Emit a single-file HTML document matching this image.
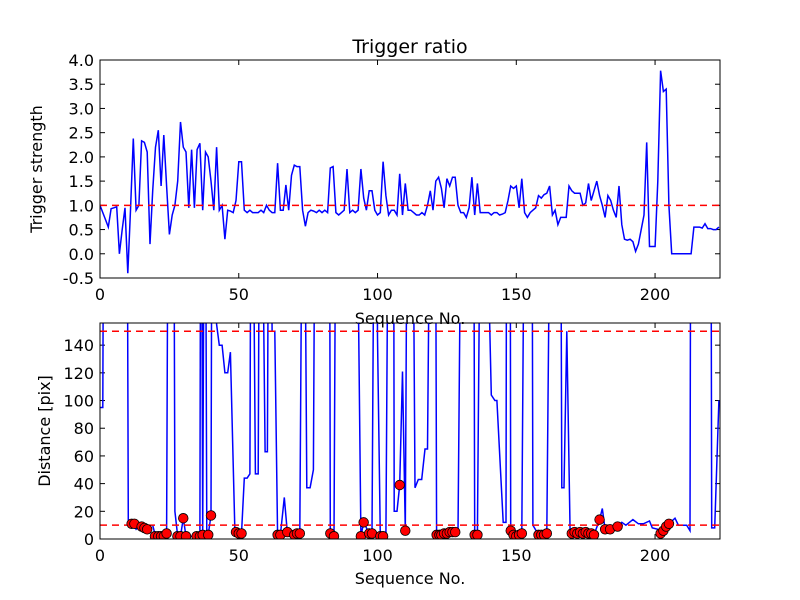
<!DOCTYPE html>
<html><head><meta charset="utf-8"><style>
body{margin:0;background:#fff}
svg{display:block;font-family:"DejaVu Sans","Liberation Sans",sans-serif}
</style></head><body>
<svg id="chart" width="800" height="600" viewBox="0 0 800 600">
<defs>
<clipPath id="c1"><rect x="100" y="60" width="620" height="218"/></clipPath>
<clipPath id="c2"><rect x="100" y="323" width="620" height="216"/></clipPath>
</defs>
<rect width="800" height="600" fill="#fff"/>
<g id="top"></g>
<g id="bot"></g>
</svg>
<script>
// ---- data ----
// trigger strength, one value per sequence number 0..223
const topVal = [
1.0,0.85,0.7,0.55,0.93,0.95,0.97,0.0,0.5,0.95,
-0.4,0.9,2.38,0.9,1.0,2.33,2.3,2.1,0.2,1.3,
2.2,2.55,1.4,2.45,1.4,0.4,0.8,1.0,1.5,2.72,
2.2,2.1,0.95,2.15,0.95,2.15,2.28,0.9,2.1,2.0,
1.5,0.9,2.2,0.9,1.0,0.3,0.9,0.88,0.85,1.1,
1.9,1.9,0.9,0.85,0.9,0.85,0.85,0.85,0.9,0.85,
1.0,0.9,0.85,0.85,1.87,0.9,0.9,1.42,0.9,1.62,
1.83,1.8,1.8,0.9,0.57,0.85,0.9,0.88,0.85,0.9,
0.85,0.9,0.85,1.77,1.8,0.85,0.8,0.85,0.9,1.75,
0.85,0.9,0.85,0.9,1.75,1.15,0.9,1.3,1.3,0.9,
0.8,0.85,1.9,1.2,0.8,0.9,0.9,0.8,1.65,0.8,
1.45,0.9,0.9,0.85,0.8,0.8,0.85,0.8,1.0,1.3,
0.9,1.5,1.58,1.35,0.95,1.55,1.4,1.58,1.58,1.0,
0.85,0.85,0.75,0.95,1.58,0.8,1.45,0.85,0.85,0.85,
0.85,0.8,0.85,0.85,0.8,0.82,0.85,1.1,1.4,1.35,
1.4,0.95,1.55,0.85,0.75,0.85,0.9,0.95,1.2,1.15,
1.22,1.25,1.4,0.8,0.9,0.6,0.75,0.75,0.75,1.4,
1.3,1.25,1.25,1.25,1.0,1.05,1.45,1.1,1.3,1.5,
1.2,1.0,0.75,1.2,1.1,0.9,0.75,1.4,0.6,0.3,
0.28,0.3,0.25,0.05,0.2,0.5,0.8,2.3,0.15,0.15,
0.15,1.5,3.78,3.35,3.4,1.0,0.0,0.0,0.0,0.0,
0.0,0.0,0.0,0.0,0.55,0.55,0.55,0.53,0.62,0.52,
0.52,0.5,0.5,0.55];
const topTicksY = [-0.5,0.0,0.5,1.0,1.5,2.0,2.5,3.0,3.5,4.0];
const xTicks = [0,50,100,150,200];
// distance line (400 = off the top of the axes)
const botSeq = [
0,1,1.5,9.6,10.2,11,12,13,14,15,
16,17,18,19,20,21,22,23,24,24.8,
26.4,27,28,29,30,31,32,33,34,35,
36,36.4,37,37.8,38.5,39,40,40.5,42,43,
44,45,46,47,48.6,49,50,51,52,53,
54,54.6,56,57,57.7,59.5,60.3,61,62,63,
64,65,66.4,67.5,68.2,69.7,71,72,73.3,74.5,
75.7,76.9,77.8,82.6,83,84.3,85.3,91.9,94,95,
97,98,99.2,100,101,102,103,104.3,105.7,106,
107,108,109,110,111,112.3,113.5,114.7,115.9,117.1,
118,119.5,120.7,121.3,123,124,125,126,127,128,
129,130.7,134.5,135,136,137.6,141,142.3,143,145.3,
146.3,146.6,147.7,148,149,150,151,152,153.4,155.5,
156,158,159,160,161,162.8,165.8,166.4,167.2,168.2,
169.4,170,171,172,173,174,175,176,177,178,
180,181,182,183.8,186.5,188,189.5,192,194,195.8,
198,199,201,202,203,204,205,207.2,208.4,211.4,
212.6,213,220,220.4,221.5,223];
const botVal = [
95,95,400,400,11,11,11,7,9,8,
7,6,10,10,2,2,2,2,4,400,
400,20,2,2,15,2,2,2,2,2,
3,400,2,400,2,3,17,400,155,140,
140,120,120,135,5,4,4,4,44,44,
47,400,47,47,400,63,63,400,150,150,
2,3,30,5,2,3,4,4,400,37,
37,50,400,400,4,2,400,400,2,12,
4,4,400,146,2,2,2,400,400,20,
20,39,121,6,400,400,37,43,43,65,
65,400,400,2,3,3,4,4,5,5,
5,400,400,3,3,400,104,100,100,12,
12,400,400,6,3,2,3,4,400,400,
10,3,3,3,4,400,400,37,37,150,
5,4,5,4,5,4,5,4,4,3,
14,22,7,7,9,12,10,14,11,11,
13,8,7,5,6,9,11,15,10,10,
6,400,400,8,8,100];
const dotSeq = [
11.4,12.4,15,16,17,19.8,21,22,23,24,
27.9,29,30,31,34.8,36,37,39,40,49,
50,51,64,65,67.5,70,71,72,83,84.3,
94,95,97,98,101,102,108,110,121.3,122.3,
123,124,125,126,127,128,135,136,148,149,
150,151,152,158,159,160,161,170,171,172,
173,174,175,176,177,178,180,182,183.8,186.5,
202,203,204,205];
const dotVal = [
11,11,9,8,7,2,2,2,2,4,
2,2,15,2,2,2,3,3,17,5,
4,4,3,3,5,3,4,4,4,2,
2,12,4,4,2,2,39,6,3,3,
3,4,4,5,5,5,3,3,6,3,
2,3,4,3,3,3,4,4,5,4,
5,4,5,4,4,3,14,7,7,9,
4,6,9,11];
const botTicksY = [0,20,40,60,80,100,120,140];
const limTop = [-0.5,4.0], limBot = [0,156], limX = [0,223.4];

const NS = "http://www.w3.org/2000/svg";
function mk(tag, attrs, parent){const e=document.createElementNS(NS,tag);for(const k in attrs)e.setAttribute(k,attrs[k]);parent.appendChild(e);return e;}
const X0=100,X1=720;
const sx = v => X0 + (v-limX[0])/(limX[1]-limX[0])*(X1-X0);

function panel(g, T, B, lim, yt, fmt, seq, val, clip, ylabel, yLabelX){
  const sy = v => B - (v-lim[0])/(lim[1]-lim[0])*(B-T);
  yt.forEach(t=>{
    const y=sy(t);
    const l=mk('line',{x1:X0,x2:X0+5,y1:y,y2:y,stroke:'#000'},g);
    
    
    mk('line',{x1:X1-5,x2:X1,y1:y,y2:y,stroke:'#000'},g);
    const tx=mk('text',{x:X0-6,y:y+6,'text-anchor':'end','font-size':16},g);
    tx.textContent=fmt(t);
    
    
  });
  xTicks.forEach(t=>{
    const x=sx(t);
    mk('line',{x1:x,x2:x,y1:B,y2:B-5,stroke:'#000'},g);
    mk('line',{x1:x,x2:x,y1:T,y2:T+5,stroke:'#000'},g);
    const tx=mk('text',{x:x,y:B+22,'text-anchor':'middle','font-size':16},g);
    tx.textContent=t;
    
    
  });
  const pts = seq.map((s,i)=>sx(s).toFixed(1)+','+sy(val[i]).toFixed(1)).join(' ');
  const pl=mk('polyline',{points:pts,fill:'none',stroke:'#0000ff','stroke-width':1.5,'clip-path':'url(#'+clip+')'},g);
  
  
  const yl=mk('text',{x:yLabelX,y:(T+B)/2,'text-anchor':'middle','font-size':16,transform:'rotate(-90 '+yLabelX+' '+(T+B)/2+')'},g);
  yl.textContent=ylabel;
  
  
  return sy;
}

const gt=document.getElementById('top');
const topSeq = topVal.map((v,i)=>i);
const syT=panel(gt,60,278,limTop,topTicksY,v=>v.toFixed(1),topSeq,topVal,'c1','Trigger strength',42);
const th=mk('line',{x1:X0,x2:X1,y1:syT(1),y2:syT(1),stroke:'#ff0000','stroke-dasharray':'7,5','stroke-width':1.5},gt);


mk('rect',{x:X0,y:60,width:620,height:218,fill:'none',stroke:'#000'},gt);
const tt=mk('text',{x:410,y:53,'text-anchor':'middle','font-size':19},gt);
tt.textContent='Trigger ratio';


const xl1=mk('text',{x:410,y:324,'text-anchor':'middle','font-size':16},gt);
xl1.textContent='Sequence No.';



const gb=document.getElementById('bot');
const syB=panel(gb,323,539,limBot,botTicksY,v=>String(v),botSeq,botVal,'c2','Distance [pix]',50);
[150,10].forEach(v=>{
  const l=mk('line',{x1:X0,x2:X1,y1:syB(v),y2:syB(v),stroke:'#ff0000','stroke-dasharray':'7,5','stroke-width':1.5},gb);
  
  
});
const dg=mk('g',{'clip-path':'url(#c2)'},gb);
dotSeq.forEach((s,i)=>{
  const c=mk('circle',{cx:sx(s),cy:syB(dotVal[i]),r:4.8,fill:'#ff0000',stroke:'#000','stroke-width':0.8},dg);
  
  
});
mk('rect',{x:X0,y:323,width:620,height:216,fill:'none',stroke:'#000'},gb);
const xl2=mk('text',{x:410,y:584,'text-anchor':'middle','font-size':16},gb);
xl2.textContent='Sequence No.';


</script>
</body></html>
